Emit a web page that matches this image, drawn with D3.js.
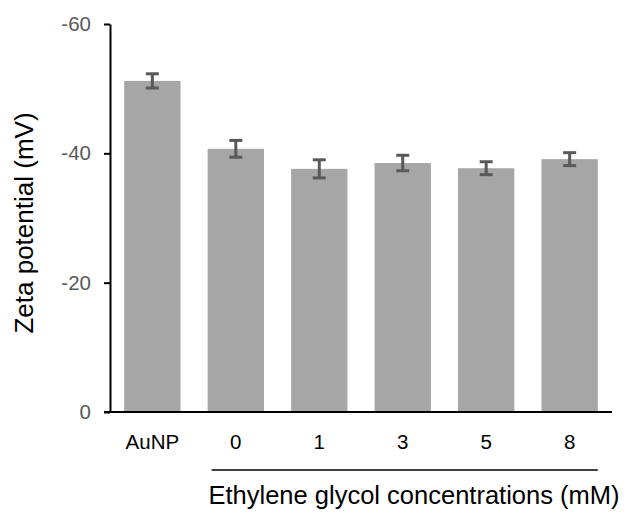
<!DOCTYPE html>
<html><head><meta charset="utf-8">
<script src="https://cdn.jsdelivr.net/npm/d3@7"></script>
<style>body{margin:0;background:#fff}svg{display:block}</style>
</head><body>
<svg id="c" width="630" height="513"></svg>
<script>
const categories = ["AuNP", "0", "1", "3", "5", "8"];
const zeta = [-51.2, -40.7, -37.6, -38.5, -37.7, -39.1];
const errors = [1.1, 1.3, 1.4, 1.2, 1.0, 1.0];
const yTicks = [0, -20, -40, -60];
const yTitle = "Zeta potential (mV)";
const xTitle = "Ethylene glycol concentrations (mM)";

const svg = d3.select("#c");
const font = "Liberation Sans, Arial, sans-serif";
const x = d3.scaleBand().domain(categories).range([110, 612]).paddingInner(0.325).paddingOuter(0.17);
const y = d3.scaleLinear().domain([0, -60]).range([412, 24]);

const data = categories.map((c, i) => ({c, v: zeta[i], e: errors[i]}));

svg.selectAll("rect.bar").data(data).join("rect")
  .attr("class", "bar")
  .attr("x", d => x(d.c)).attr("width", x.bandwidth())
  .attr("y", d => y(d.v)).attr("height", d => y(0) - y(d.v))
  .attr("fill", "#a6a6a6");

const eg = svg.append("g").attr("stroke", "#595959").attr("stroke-width", 3);
data.forEach(d => {
  const cx = x(d.c) + x.bandwidth() / 2;
  eg.append("line").attr("x1", cx).attr("x2", cx).attr("y1", y(d.v - d.e)).attr("y2", y(d.v + d.e));
  eg.append("line").attr("x1", cx - 6.5).attr("x2", cx + 6.5).attr("y1", y(d.v - d.e)).attr("y2", y(d.v - d.e));
  eg.append("line").attr("x1", cx - 6.5).attr("x2", cx + 6.5).attr("y1", y(d.v + d.e)).attr("y2", y(d.v + d.e));
});

// y axis
const ya = svg.append("g").attr("transform", "translate(110,0)")
  .call(d3.axisLeft(y).tickValues(yTicks).tickFormat(d => String(d)).tickSize(6).tickSizeOuter(0).tickPadding(13));
ya.select(".domain").attr("stroke", "#000").attr("stroke-width", 2);
ya.selectAll(".tick line").attr("stroke", "#000").attr("stroke-width", 2);
ya.selectAll(".tick text").attr("font-family", font).attr("font-size", 20.5).attr("fill", "#595959");

// x axis
const xa = svg.append("g").attr("transform", "translate(0,412)")
  .call(d3.axisBottom(x).tickSize(0).tickSizeOuter(0).tickPadding(22));
xa.select(".domain").attr("stroke", "#000").attr("stroke-width", 2).attr("d", "M104,0H612");
xa.selectAll(".tick text").attr("font-family", font).attr("font-size", 20.5).attr("fill", "#000");

// bracket line under the concentration labels
svg.append("line").attr("x1", x("0") + 4).attr("x2", x("8") + x.bandwidth())
  .attr("y1", 470).attr("y2", 470).attr("stroke", "#000").attr("stroke-width", 1.5);

svg.append("text").attr("x", 414).attr("y", 504).attr("text-anchor", "middle")
  .attr("font-family", font).attr("font-size", 25.5).attr("fill", "#000").text(xTitle);
svg.append("text").attr("transform", "translate(33,223) rotate(-90)").attr("text-anchor", "middle")
  .attr("font-family", font).attr("font-size", 26).attr("fill", "#000").text(yTitle);
</script>
</body></html>
